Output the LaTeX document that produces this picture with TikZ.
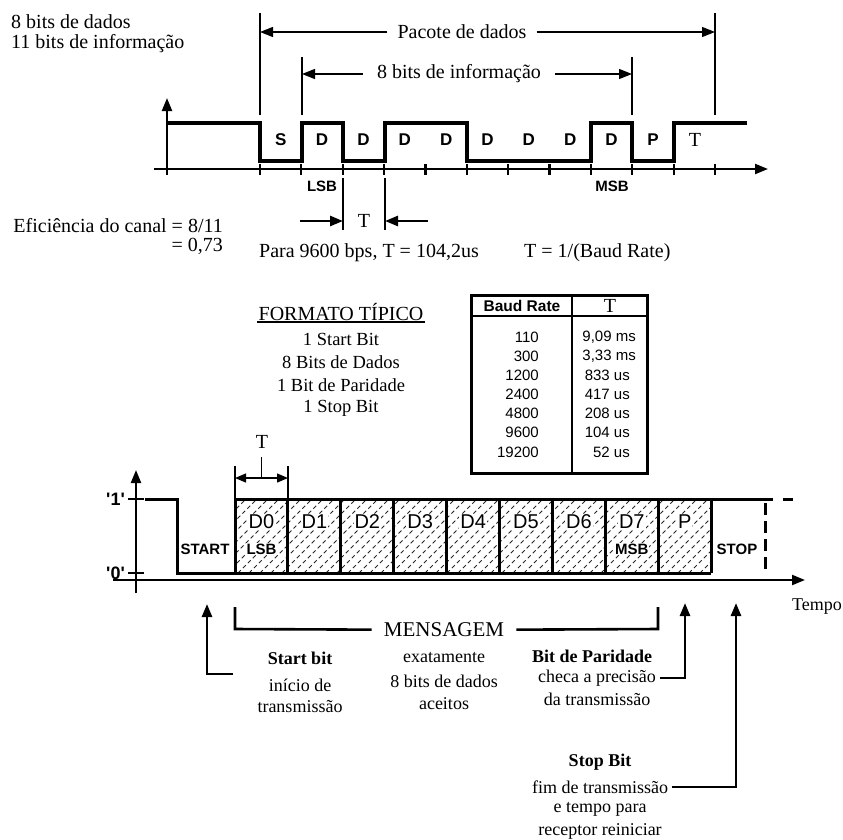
\documentclass[tikz,border=0pt]{standalone}
\usepackage{fontspec}
\setmainfont{Liberation Serif}
\newfontfamily\arialf{Liberation Sans}
\usetikzlibrary{arrows.meta}

\begin{document}
\begin{tikzpicture}[x=1pt,y=-1pt,
  >={Triangle[length=13pt,width=10pt]},
  sig/.style={line width=3.6pt},
  axis/.style={line width=2.2pt},
  guide/.style={line width=1.3pt},
  arr/.style={line width=2.6pt},
  txt/.style={font=\fontsize{20}{22}\selectfont,inner sep=1pt},
  note/.style={font=\fontsize{18}{20}\selectfont,inner sep=1pt},
  bnote/.style={font=\bfseries\fontsize{18}{20}\selectfont,inner sep=1pt},
  lbl/.style={font=\arialf\bfseries\fontsize{17}{17}\selectfont,inner sep=1pt},
  cell/.style={font=\arialf\fontsize{20}{20}\selectfont,fill=white,inner sep=1pt},
  tag/.style={font=\arialf\bfseries\fontsize{15}{15}\selectfont,fill=white,inner sep=1pt},
  tab/.style={font=\arialf\fontsize{15}{15}\selectfont,inner sep=0pt},
  hatch/.style={line width=1pt,black!85,dash pattern=on 4pt off 3pt}]
\useasboundingbox (0,0) rectangle (843,839);

\node[txt,anchor=west] (dados) at (10,22) {8 bits de dados};
\node[txt,anchor=west] (info) at (10,44) {11 bits de informação};

\draw[axis,->] (167,175) -- (167,98);
\draw[axis,->] (154,169) -- (768,169);
\foreach \k in {0,...,11}
  \draw[axis] ({260+41.36*\k},164) -- ++(0,11);
\draw[sig] (167,123) -- (260,123) -- (260,161) -- (302,161) -- (302,123) -- (343,123)
  -- (343,161) -- (385,161) -- (385,123) -- (467,123) -- (467,161) -- (591,161)
  -- (591,123) -- (632,123) -- (632,161) -- (674,161) -- (674,123) -- (747,123);
\foreach \k/\lab in {0/S,1/D,2/D,3/D,4/D,5/D,6/D,7/D,8/D,9/P}
  \node[lbl] (top\k) at ({280.7+41.36*\k},140) {\lab};
\node[txt] (topT) at (695,140) {T};
\node[lbl,font=\arialf\bfseries\fontsize{15}{15}\selectfont] (lsb) at (322,186) {LSB};
\node[lbl,font=\arialf\bfseries\fontsize{15}{15}\selectfont] (msb) at (612,186) {MSB};

\draw[guide] (260,13) -- (260,115);
\draw[guide] (715,13) -- (715,115);
\draw[guide] (302,57) -- (302,115);
\draw[guide] (632,57) -- (632,115);
\coordinate (pkL) at (260,32);
\coordinate (pkR) at (715,32);
\coordinate (ibL) at (302,74);
\coordinate (ibR) at (632,74);
\node[txt,inner xsep=10pt] (pacote) at (462,32) {Pacote de dados};
\node[txt,inner xsep=14pt] (infobits) at (459,74) {8 bits de informação};
\draw[guide,->] (pacote) -- (pkL);
\draw[guide,->] (pacote) -- (pkR);
\draw[guide,->] (infobits) -- (ibL);
\draw[guide,->] (infobits) -- (ibR);

\draw[guide] (343,178) -- (343,230);
\draw[guide] (385,178) -- (385,230);
\coordinate (tL) at (343,221);
\coordinate (tR) at (385,221);
\node[txt] (period) at (364,221) {T};
\draw[arr,->] (300,221) -- (tL);
\draw[arr,->] (428,221) -- (tR);

\node[txt,anchor=east] (efic) at (224,226) {Eficiência do canal = 8/11};
\node[txt,anchor=east] (eficval) at (224,246) {= 0,73};
\node[txt,anchor=west] (para) at (258,253) {Para 9600 bps, T = 104,2us};
\node[txt,anchor=west] (tbaud) at (523,253) {T = 1/(Baud Rate)};

\node[txt] (formato) at (341,312) {FORMATO TÍPICO};
\draw[guide] (formato.south west) -- (formato.south east);
\foreach \y/\lab in {339/1 Start Bit,362/8 Bits de Dados,385/1 Bit de Paridade,408/1 Stop Bit}
  \node[note,font=\fontsize{18.5}{20}\selectfont] at (341,\y) {\lab};

\draw[line width=3pt] (471,295) rectangle (647,473);
\draw[line width=2.6pt] (471,316) -- (647,316);
\draw[line width=1.4pt] (572,295) -- (572,473);
\node[tab,font=\arialf\bfseries\fontsize{15.5}{15}\selectfont] (hbaud) at (522,306) {Baud Rate};
\node[txt] (hT) at (610,306) {T};
\foreach \y/\b/\t/\r in {337/110/{9,09 ms}/636,356/300/{3,33 ms}/636,375/1200/{833 us}/630,
    394/2400/{417 us}/630,413/4800/{208 us}/630,432/9600/{104 us}/630,452/19200/{52 us}/630} {
  \node[tab,anchor=east] at (539,\y) {\b};
  \node[tab,anchor=east] at (\r,\y) {\t};
}

\draw[axis,->] (136,593) -- (136,470);
\draw[axis,->] (113,580) -- (805,580);
\draw[axis] (128,499) -- (144,499);
\draw[axis] (128,573) -- (144,573);
\node[lbl,anchor=east,font=\arialf\bfseries\fontsize{18}{18}\selectfont] (one) at (126,499) {\textquotesingle 1\textquotesingle};
\node[lbl,anchor=east,font=\arialf\bfseries\fontsize{18}{18}\selectfont] (zero) at (126,573) {\textquotesingle 0\textquotesingle};

\begin{scope}
\clip (235,499) rectangle (711,573);
\foreach \x in {150,161,...,720}
  \draw[hatch] (\x,573) -- ++(74,-74);
\end{scope}
\draw[sig,line width=3pt] (145,499) -| (177,573) -- (711,573);
\draw[sig,line width=3pt] (235,573) |- (773,499);
\foreach \k in {1,...,9}
  \draw[sig,line width=3pt] ({235+52.9*\k},499) -- ++(0,74);
\draw[sig,line width=3pt] (783,499) -- (793,499);
\draw[sig,line width=3pt,dash pattern=on 12pt off 6pt] (765,503) -- (765,573);
\foreach \k/\lab in {0/D0,1/D1,2/D2,3/D3,4/D4,5/D5,6/D6,7/D7,8/P}
  \node[cell] (c\k) at ({261.5+52.9*\k},522) {\lab};
\node[tag] (lsbb) at (261.5,549) {LSB};
\node[tag] (msbb) at (631.8,549) {MSB};
\node[tag] (start) at (205,549) {START};
\node[tag] (stop) at (737,549) {STOP};

\draw[guide] (235,466) -- (235,499);
\draw[guide] (288,466) -- (288,499);
\draw[guide,{Triangle[length=11pt,width=9pt]}-{Triangle[length=11pt,width=9pt]}] (235,478) -- (288,478);
\draw[guide] (261.5,478) -- (261.5,457);
\node[txt] (tbit) at (262,442) {T};

\node[note,anchor=east] (tempo) at (843,607) {Tempo};

\coordinate (startTip) at (207,604);
\coordinate (parTip) at (685,603);
\coordinate (stopTip) at (736,603);
\node[txt,font=\fontsize{21}{22}\selectfont,inner xsep=12pt] (mensagem) at (444,630) {MENSAGEM};
\draw[arr] (235,607) -- (235,629) -- (mensagem);
\draw[arr] (mensagem) -- (658,629) -- (658,607);

\node[bnote] (startbit) at (300,658) {Start bit};
\node[note] (inicio) at (300,685) {início de};
\node[note] (inicio2) at (300,707) {transmissão};
\draw[arr,->] (233,674) -| (startTip);

\node[note] (exato) at (444,658) {exatamente};
\node[note] (exato2) at (444,681) {8 bits de dados};
\node[note] (exato3) at (444,704) {aceitos};

\node[bnote] (parbit) at (592,656) {Bit de Paridade};
\node[note] (checa) at (597,678) {checa a precisão};
\node[note] (checa2) at (597,699) {da transmissão};
\draw[arr,->] (checa.east) ++(3,0) -| (parTip);

\node[bnote] (stopbit) at (600,762) {Stop Bit};
\node[note] (fim) at (600,787) {fim de transmissão};
\node[note] (fim2) at (600,809) {e tempo para};
\node[note] (fim3) at (600,831) {receptor reiniciar};
\draw[arr,->] (fim.east) ++(3,0) -| (stopTip);
\end{tikzpicture}
\end{document}
